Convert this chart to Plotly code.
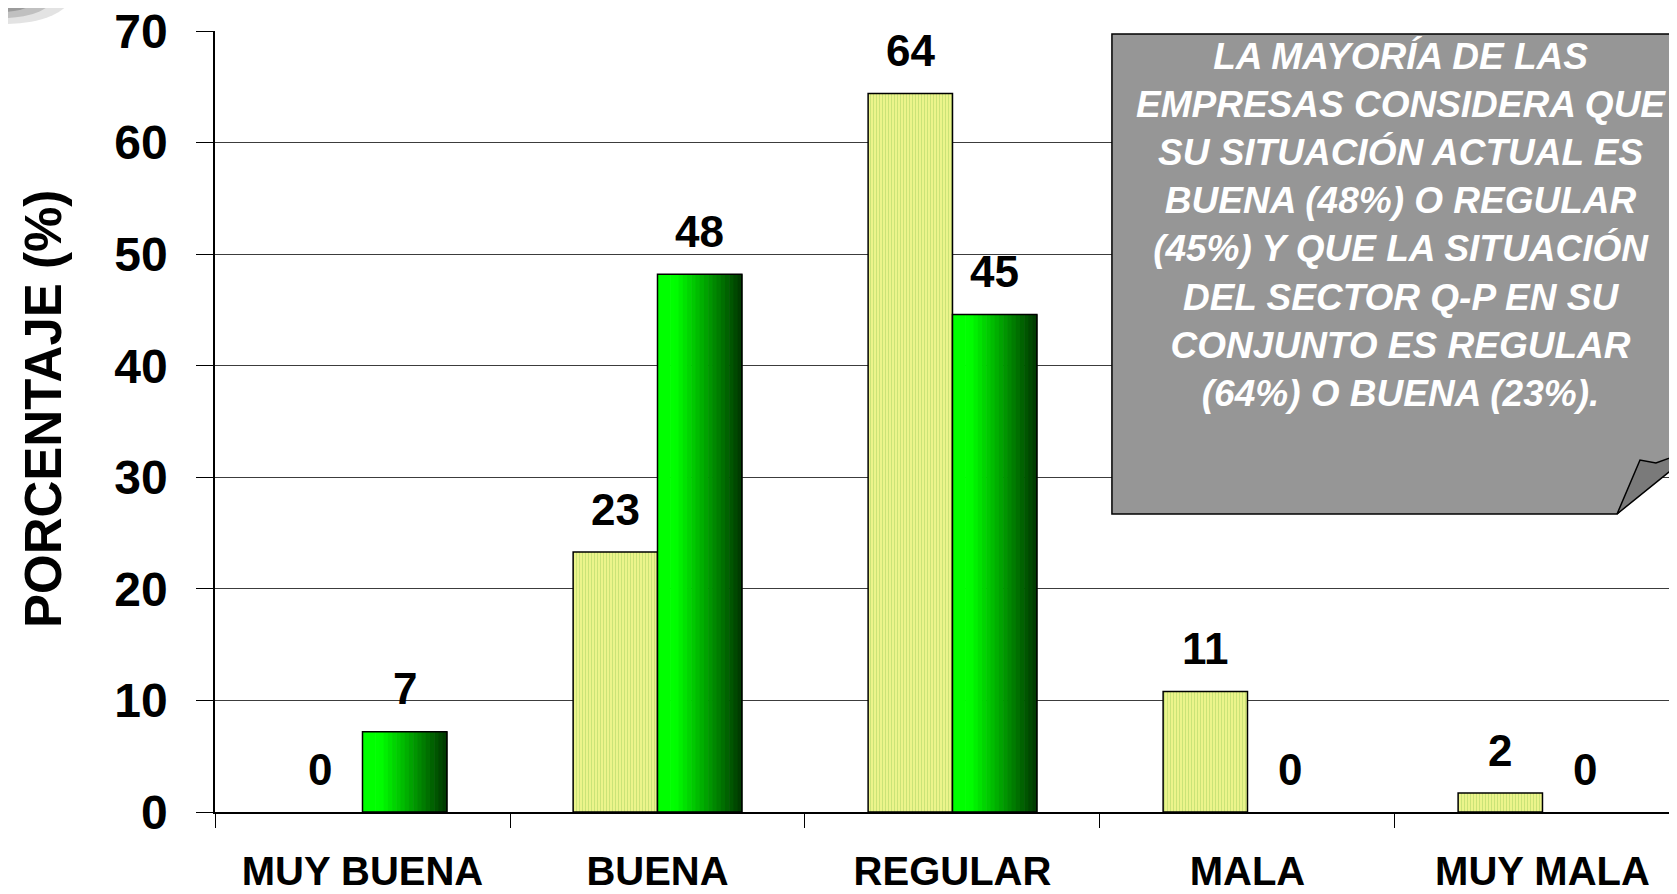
import plotly.graph_objects as go

# Valoración de la situación (%)
CATEGORIES = ["MUY BUENA", "BUENA", "REGULAR", "MALA", "MUY MALA"]
SECTOR = [0, 23.3, 64.4, 10.8, 1.7]     # situación del sector Q-P (barras rayadas)
EMPRESA = [7.2, 48.2, 44.6, 0, 0]       # situación actual de la empresa (barras verdes)
Y_TICKS = [0, 10, 20, 30, 40, 50, 60, 70]

CALLOUT = ("LA MAYORÍA DE LAS<br>EMPRESAS CONSIDERA QUE<br>SU SITUACIÓN ACTUAL ES<br>"
           "BUENA (48%) O REGULAR<br>(45%) Y QUE LA SITUACIÓN<br>DEL SECTOR Q-P EN SU<br>"
           "CONJUNTO ES REGULAR<br>(64%) O BUENA (23%).")

# page body has an 8px margin, so the figure is 8px smaller than the window
OFF = 8
W, H = 1677 - OFF, 894 - OFF
ML, MR, MT, MB = 215 - OFF, 0, 31 - OFF, 894 - 812
PW, PH = W - ML - MR, H - MT - MB
FONT = "Arial, Liberation Sans, sans-serif"

BAR_W = 0.286
N_SLICES = 20


def px(x, y):
    # screen pixel position -> paper coords
    x, y = x - OFF, y - OFF
    return (x - ML) / PW, (H - MB - y) / PH


def path(points):
    pts = [px(x, y) for x, y in points]
    return "M " + " L ".join(f"{a:.4f},{b:.4f}" for a, b in pts) + " Z"


def outline(values):
    # no outline for empty bars
    return [0 if v == 0 else 1.5 for v in values]


fig = go.Figure()

# striped bars (sector)
fig.add_trace(go.Bar(
    x=CATEGORIES, y=SECTOR, offset=-BAR_W, width=BAR_W,
    marker=dict(color="#ffff99",
                pattern=dict(shape="|", fgcolor="#9acb5e", bgcolor="#fbfb92",
                             size=3, solidity=0.55),
                line=dict(color="black", width=outline(SECTOR))),
    hoverinfo="skip", showlegend=False,
))

# green gradient bars built from thin slices (flat bright green, then darker)
for k in range(N_SLICES):
    t = k / (N_SLICES - 1)
    t = max(0.0, (t - 0.2) / 0.8)
    g = int(255 - t * 195)
    fig.add_trace(go.Bar(
        x=CATEGORIES, y=EMPRESA,
        offset=k * BAR_W / N_SLICES, width=BAR_W / N_SLICES * 1.15,
        marker=dict(color=f"rgb(0,{g},0)", line=dict(width=0)),
        hoverinfo="skip", showlegend=False,
    ))
fig.add_trace(go.Bar(
    x=CATEGORIES, y=EMPRESA, offset=0, width=BAR_W,
    marker=dict(color="rgba(0,0,0,0)", line=dict(color="black", width=outline(EMPRESA))),
    hoverinfo="skip", showlegend=False,
))

# value labels
shift = BAR_W / 2 * PW / 4.956
for series, sgn in ((SECTOR, -1), (EMPRESA, 1)):
    for cat, v in zip(CATEGORIES, series):
        fig.add_annotation(x=cat, y=v, text=f"{v:.0f}", showarrow=False,
                           xshift=sgn * shift, yshift=43,
                           font=dict(family=FONT, size=44, color="black", weight="bold"))

# callout box with folded corner
fig.add_shape(type="path", xref="paper", yref="paper",
              path=path([(1112, 34), (1700, 34), (1700, 431), (1617, 514), (1112, 514)]),
              fillcolor="#969696", line=dict(color="black", width=1.5))
fig.add_shape(type="path", xref="paper", yref="paper",
              path=path([(1617, 514), (1640, 460), (1656, 463), (1700, 447)]),
              fillcolor="#7a7a7a", line=dict(color="black", width=1.5))
cx, cy = px(1401, 225)
fig.add_annotation(x=cx, y=cy, xref="paper", yref="paper", showarrow=False,
                   xanchor="center", yanchor="middle",
                   text=f"<i>{CALLOUT}</i>", align="center",
                   font=dict(family=FONT, size=37, color="white", weight="bold"))

# y title
tx, ty = px(43, 409)
fig.add_annotation(x=tx, y=ty, xref="paper", yref="paper", showarrow=False,
                   xanchor="center", yanchor="middle",
                   text="PORCENTAJE (%)", textangle=-90,
                   font=dict(family=FONT, size=51, color="black", weight="bold"))

# grey smudge in the top-left corner
for r, op in ((60, 0.15), (45, 0.22), (30, 0.3)):
    x0, y0 = px(-r, -r * 0.6)
    x1, y1 = px(r * 1.2, r * 0.4)
    fig.add_shape(type="circle", xref="paper", yref="paper",
                  x0=x0, y0=y0, x1=x1, y1=y1,
                  fillcolor=f"rgba(70,70,70,{op})", line=dict(width=0))

fig.update_layout(
    width=W, height=H,
    margin=dict(l=ML, r=MR, t=MT, b=MB, autoexpand=False),
    paper_bgcolor="white", plot_bgcolor="white",
    barmode="overlay",
    xaxis=dict(
        type="category", range=[-0.5, 4.456],
        tickson="boundaries", ticks="outside", ticklen=14, tickcolor="black",
        showline=True, linecolor="black", linewidth=1.5, showgrid=False,
        tickfont=dict(family=FONT, size=40, color="black", weight="bold"),
        ticklabelstandoff=23, ticklabeloverflow="allow",
    ),
    yaxis=dict(
        range=[0, 70], tickvals=Y_TICKS,
        ticks="outside", ticklen=17, tickcolor="black",
        showline=True, linecolor="black", linewidth=1.5,
        showgrid=True, gridcolor="#3c3c3c", gridwidth=1, zeroline=False,
        tickfont=dict(family=FONT, size=48, color="black", weight="bold"),
        ticklabelstandoff=19, ticklabeloverflow="allow",
    ),
)

fig.write_html("out.html")
